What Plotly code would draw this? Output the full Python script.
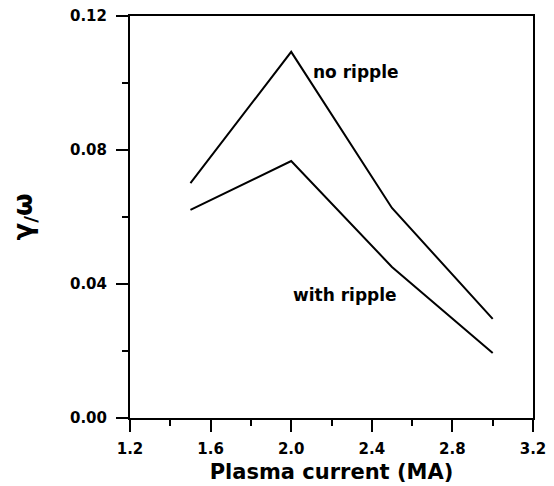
import plotly.graph_objects as go

x_vals = [1.5, 2.0, 2.5, 3.0]
no_ripple = [0.0701, 0.1093, 0.0627, 0.0296]
with_ripple = [0.0621, 0.0767, 0.0451, 0.0194]

x_ticks = [1.2, 1.6, 2.0, 2.4, 2.8, 3.2]
x_ticklabels = ["1.2", "1.6", "2.0", "2.4", "2.8", "3.2"]
x_minor = [1.4, 1.8, 2.2, 2.6, 3.0]
y_ticks = [0, 0.04, 0.08, 0.12]
y_ticklabels = ["0.00", "0.04", "0.08", "0.12"]
y_minor = [0.02, 0.06, 0.10]

fig = go.Figure()
fig.add_trace(go.Scatter(x=x_vals, y=no_ripple, mode="lines",
                         line=dict(color="black", width=2), name="no ripple"))
fig.add_trace(go.Scatter(x=x_vals, y=with_ripple, mode="lines",
                         line=dict(color="black", width=2), name="with ripple"))

FONT = "DejaVu Sans"

fig.add_annotation(x=2.1, y=0.1033, text="<b>no ripple</b>", showarrow=False,
                   xanchor="left", yanchor="middle",
                   font=dict(family=FONT, size=17, color="black"))
fig.add_annotation(x=2.0, y=0.0367, text="<b>with ripple</b>", showarrow=False,
                   xanchor="left", yanchor="middle",
                   font=dict(family=FONT, size=17, color="black"))

axis_common = dict(showgrid=False, zeroline=False, showline=True, linecolor="black",
                   linewidth=2, mirror=True, ticks="outside", ticklen=12, tickwidth=2,
                   tickcolor="black", automargin=False,
                   tickfont=dict(family=FONT, size=15, color="black"))

fig.update_xaxes(range=[1.2, 3.2], tickvals=x_ticks,
                 ticktext=["<b>%s</b>" % t for t in x_ticklabels],
                 ticklabelstandoff=4,
                 minor=dict(tickvals=x_minor, ticks="outside", ticklen=6,
                            tickwidth=2, tickcolor="black"),
                 title=dict(text="<b>Plasma current (MA)</b>", standoff=7,
                            font=dict(family=FONT, size=21, color="black")),
                 **axis_common)
fig.update_yaxes(range=[0, 0.12], tickvals=y_ticks,
                 ticktext=["<b>%s</b>" % t for t in y_ticklabels],
                 ticklabelstandoff=6,
                 minor=dict(tickvals=y_minor, ticks="outside", ticklen=6,
                            tickwidth=2, tickcolor="black"),
                 title=dict(text="<b>γ<sub>/</sub>ω</b>", standoff=30,
                            font=dict(family=FONT, size=26, color="black")),
                 **axis_common)

fig.update_layout(template="none", width=554, height=486,
                  margin=dict(l=130, r=21, t=16, b=68),
                  plot_bgcolor="white", paper_bgcolor="white", showlegend=False)

fig.write_html("out.html", config={"displayModeBar": False},
               post_script="document.body.style.margin='0';")
